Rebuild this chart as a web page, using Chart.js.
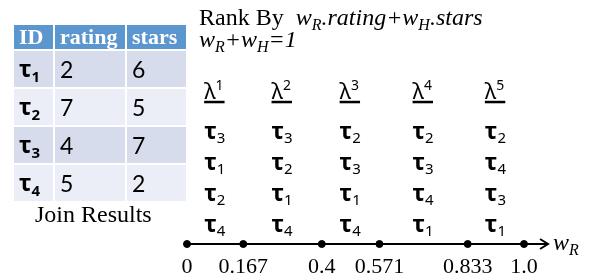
<!DOCTYPE html>
<html>
<head>
<meta charset="utf-8">
<script src="https://cdn.jsdelivr.net/npm/chart.js@4"></script>
<style>
  html,body{margin:0;padding:0;background:#fff;}
  #wrap{position:relative;width:589px;height:278px;overflow:hidden;}
  #c{position:absolute;left:0;top:0;}
  table{position:absolute;left:12px;top:23px;border-collapse:collapse;table-layout:fixed;width:174px;}
  td,th{border:2px solid #fff;padding:0 0 0 5px;text-align:left;box-sizing:border-box;overflow:hidden;}
  th{background:#5b96cf;color:#fff;font:bold 22px "Liberation Serif";height:26px;line-height:22px;}
  td{font:23px Lato;color:#000;height:38px;line-height:30px;}
  tr.odd td{background:#d6dcec;}
  tr.even td{background:#ebeef6;}
  .tau{font:bold 23px "Noto Sans";}
  .tau sub{font:bold 15px "Noto Sans";vertical-align:-5px;}
  .txt{position:absolute;font:24px "Liberation Serif";color:#000;white-space:nowrap;}
  .sb{font-size:16px;position:relative;top:5px;}
</style>
</head>
<body>
<div id="wrap">
  <canvas id="c" width="589" height="278"></canvas>
  <table id="tbl"></table>
  <div class="txt" style="left:35px;top:201px;">Join Results</div>
  <div class="txt" style="left:199px;top:4px;">Rank By&nbsp; <i>w<span class="sb">R</span>.rating+w<span class="sb">H</span>.stars</i></div>
  <div class="txt" style="left:199px;top:26px;"><i>w<span class="sb">R</span>+w<span class="sb">H</span>=1</i></div>
</div>
<script>
// ---- data ----
const tupleIds = ['1', '2', '3', '4'];          // τ subscripts
const ratings = [2, 7, 4, 5];
const stars = [6, 5, 7, 2];
const breakpoints = [0, 0.167, 0.4, 0.571, 0.833, 1.0];
const tickLabels = ['0', '0.167', '0.4', '0.571', '0.833', '1.0'];
const regionNames = ['1', '2', '3', '4', '5'];  // λ superscripts
const rank1 = [3, 1, 2, 4];
const rank2 = [3, 2, 1, 4];
const rank3 = [2, 3, 1, 4];
const rank4 = [2, 3, 4, 1];
const rank5 = [2, 4, 3, 1];
const rankings = [rank1, rank2, rank3, rank4, rank5];

// ---- table ----
const tbl = document.getElementById('tbl');
let html = '<colgroup><col style="width:41px"><col style="width:72px"><col style="width:61px"></colgroup>';
html += '<tr><th>ID</th><th>rating</th><th>stars</th></tr>';
tupleIds.forEach((id, i) => {
  html += '<tr class="' + (i % 2 === 0 ? 'odd' : 'even') + '"><td><span class="tau">τ<sub>' + id + '</sub></span></td><td>' + ratings[i] + '</td><td>' + stars[i] + '</td></tr>';
});
tbl.innerHTML = html;

// ---- rank-slot positions on the y scale ----
function rowValue(r) { return 4.58 - r; } // r = 1..4
const headerValue = 4.62;

const diagramPlugin = {
  id: 'diagram',
  beforeDatasetsDraw(chart) {
    const ctx = chart.ctx;
    const xs = chart.scales.x, ys = chart.scales.y;
    const y0 = ys.getPixelForValue(0);
    const xStart = xs.getPixelForValue(breakpoints[0]);
    const xEnd = xs.getPixelForValue(breakpoints[breakpoints.length - 1]) + 24;
    ctx.save();
    ctx.strokeStyle = '#000';
    ctx.lineWidth = 2;
    ctx.beginPath();
    ctx.moveTo(xStart, y0);
    ctx.lineTo(xEnd, y0);
    ctx.stroke();
    ctx.beginPath();
    ctx.moveTo(xEnd - 8, y0 - 5);
    ctx.lineTo(xEnd, y0);
    ctx.lineTo(xEnd - 8, y0 + 5);
    ctx.stroke();
    // axis name w_R
    ctx.fillStyle = '#000';
    ctx.textBaseline = 'alphabetic';
    ctx.font = 'italic 24px "Liberation Serif"';
    ctx.fillText('w', xEnd + 5, y0 + 6);
    const ww = ctx.measureText('w').width;
    ctx.font = 'italic 16px "Liberation Serif"';
    ctx.fillText('R', xEnd + 5 + ww, y0 + 11);
    ctx.restore();
  },
  afterDraw(chart) {
    const ctx = chart.ctx;
    const xs = chart.scales.x, ys = chart.scales.y;
    ctx.save();
    ctx.fillStyle = '#000';
    ctx.strokeStyle = '#000';
    ctx.textBaseline = 'alphabetic';
    for (let k = 0; k < regionNames.length; k++) {
      const mid = (breakpoints[k] + breakpoints[k + 1]) / 2;
      const cx = xs.getPixelForValue(mid);
      const left = cx - 11;
      // header λ^k with underline
      const hy = ys.getPixelForValue(headerValue);
      ctx.font = '22px "Noto Sans"';
      ctx.fillText('λ', left, hy - 2);
      const lw = ctx.measureText('λ').width;
      ctx.font = '14px "Noto Sans"';
      ctx.fillText(regionNames[k], left + lw, hy - 11);
      const sw = ctx.measureText(regionNames[k]).width;
      ctx.fillRect(left, hy, lw + sw + 1, 2.5);
      // ranking
      rankings[k].forEach((t, r) => {
        const py = ys.getPixelForValue(rowValue(r + 1));
        ctx.font = 'bold 23px "Noto Sans"';
        ctx.fillText('τ', left, py + 6);
        const tw = ctx.measureText('τ').width;
        ctx.font = '15px "Noto Sans"';
        ctx.fillText(tupleIds[t - 1], left + tw, py + 10);
      });
    }
    ctx.restore();
  }
};

new Chart(document.getElementById('c'), {
  type: 'scatter',
  data: {
    datasets: [{
      data: breakpoints.map(v => ({ x: v, y: 0 })),
      backgroundColor: '#000',
      borderColor: '#000',
      pointRadius: 3.5,
      clip: false
    }]
  },
  options: {
    responsive: false,
    animation: false,
    events: [],
    layout: { padding: { left: 187, right: 65, top: 89, bottom: 0 } },
    plugins: { legend: { display: false }, tooltip: { enabled: false } },
    scales: {
      x: {
        type: 'linear', min: 0, max: 1,
        grid: { display: false },
        border: { display: false },
        afterBuildTicks: s => { s.ticks = breakpoints.map(v => ({ value: v })); },
        afterFit: s => { s.height = 34; },
        ticks: {
          autoSkip: false, maxRotation: 0, padding: 2,
          color: '#000',
          font: { family: '"Liberation Serif"', size: 22 },
          callback: (v, i) => tickLabels[i]
        }
      },
      y: { display: false, min: 0, max: 5 }
    }
  },
  plugins: [diagramPlugin]
});
</script>
</body>
</html>
